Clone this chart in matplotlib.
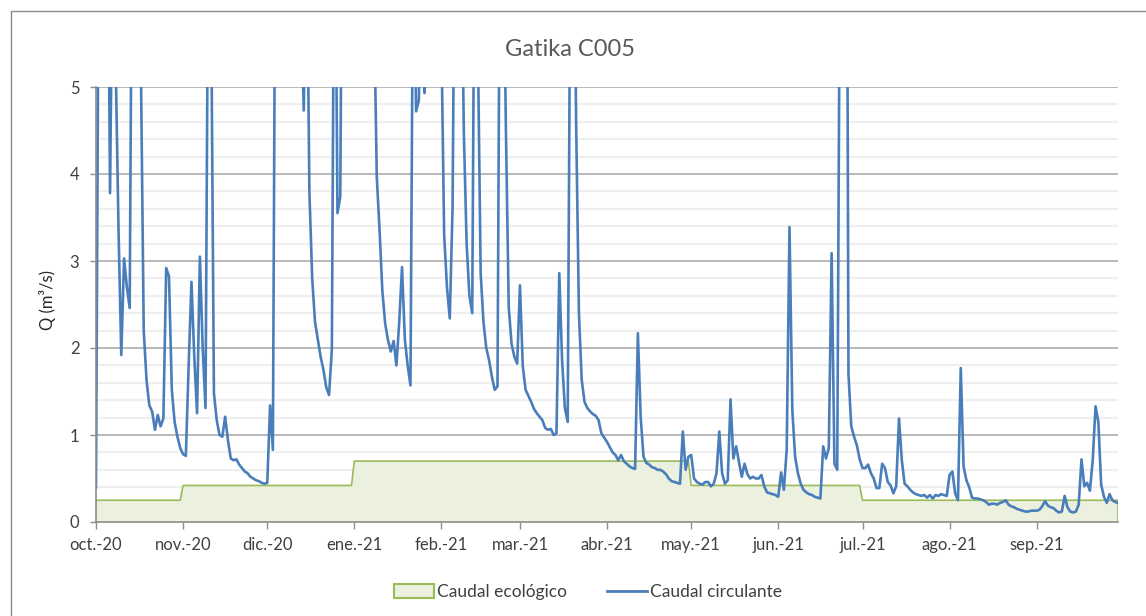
import numpy as np
import matplotlib
matplotlib.use("Agg")
import matplotlib.pyplot as plt
from matplotlib.ticker import MultipleLocator
from matplotlib.patches import Patch, Rectangle
from matplotlib.lines import Line2D

plt.rcParams['font.family'] = ['Lato', 'DejaVu Sans']

# ---------------- data ----------------
month_labels = ['oct.-20', 'nov.-20', 'dic.-20', 'ene.-21', 'feb.-21', 'mar.-21',
                'abr.-21', 'may.-21', 'jun.-21', 'jul.-21', 'ago.-21', 'sep.-21']
month_days = [31, 30, 31, 31, 28, 31, 30, 31, 30, 31, 31, 30]

# Caudal ecológico (m3/s), one value per month
eco_monthly = [0.25, 0.42, 0.42, 0.70, 0.70, 0.70, 0.70, 0.42, 0.42, 0.25, 0.25, 0.25]

# Caudal circulante (m3/s), daily values per month
q_oct = [0.40, 7.0, 9.0, 6.5, 8.0, 3.78, 7.0, 5.3, 3.4, 1.92, 3.03, 2.70, 2.46, 8.0, 10.0,
         7.0, 5.2, 2.2, 1.63, 1.34, 1.27, 1.06, 1.23, 1.10, 1.19, 2.92, 2.82, 1.52, 1.15, 0.98, 0.85]
q_nov = [0.78, 0.76, 1.8, 2.76, 1.9, 1.25, 3.05, 2.0, 1.31, 7.0, 6.0, 1.48, 1.17, 1.0, 0.98,
         1.21, 0.94, 0.73, 0.71, 0.72, 0.66, 0.62, 0.58, 0.56, 0.52, 0.50, 0.48, 0.47, 0.45, 0.44]
q_dic = [0.45, 1.34, 0.83, 8.0, 12.0, 10.0, 8.0, 9.0, 11.0, 8.0, 7.0, 9.0, 6.0, 4.73, 7.0,
         3.8, 2.8, 2.3, 2.1, 1.9, 1.75, 1.55, 1.46, 1.98, 8.0, 3.55, 3.74, 9.0, 10.0, 12.0, 10.0]
q_ene = [9.0, 11.0, 8.0, 10.0, 7.0, 9.0, 8.0, 6.0, 3.97, 3.35, 2.65, 2.28, 2.09, 1.96, 2.08,
         1.8, 2.3, 2.93, 2.1, 1.8, 1.57, 7.0, 4.72, 4.85, 7.0, 4.93, 8.0, 10.0, 12.0, 9.0, 8.0]
q_feb = [5.6, 3.3, 2.7, 2.34, 3.62, 8.0, 10.0, 7.0, 4.5, 3.2, 2.6, 2.4, 8.0, 5.5, 2.86,
         2.3, 2.0, 1.86, 1.67, 1.52, 1.56, 8.0, 7.0, 4.5, 2.47, 2.05, 1.9, 1.82]
q_mar = [2.72, 1.79, 1.52, 1.45, 1.38, 1.30, 1.25, 1.21, 1.17, 1.08, 1.06, 1.07, 1.0, 1.02, 2.86,
         1.86, 1.31, 1.15, 7.0, 8.0, 4.6, 2.4, 1.63, 1.38, 1.31, 1.27, 1.24, 1.22, 1.17, 1.02, 0.97]
q_abr = [0.92, 0.86, 0.80, 0.77, 0.71, 0.77, 0.70, 0.67, 0.64, 0.62, 0.61, 2.17, 1.2, 0.75, 0.68,
         0.66, 0.63, 0.62, 0.60, 0.60, 0.58, 0.55, 0.50, 0.47, 0.46, 0.45, 0.44, 1.04, 0.60, 0.75]
q_may = [0.77, 0.50, 0.46, 0.44, 0.43, 0.46, 0.46, 0.41, 0.44, 0.56, 1.04, 0.56, 0.44, 0.48, 1.41,
         0.73, 0.87, 0.69, 0.52, 0.67, 0.55, 0.50, 0.52, 0.50, 0.50, 0.54, 0.41, 0.34, 0.33, 0.32, 0.31]
q_jun = [0.29, 0.57, 0.37, 0.83, 3.39, 1.29, 0.75, 0.56, 0.44, 0.37, 0.34, 0.32, 0.31, 0.29, 0.28,
         0.27, 0.87, 0.73, 0.85, 3.09, 0.67, 0.60, 7.0, 9.0, 12.0, 1.7, 1.1, 0.98, 0.88, 0.72]
q_jul = [0.62, 0.62, 0.66, 0.56, 0.50, 0.39, 0.39, 0.67, 0.62, 0.46, 0.42, 0.33, 0.41, 1.19, 0.71,
         0.44, 0.41, 0.37, 0.34, 0.32, 0.31, 0.30, 0.31, 0.28, 0.31, 0.27, 0.31, 0.30, 0.32, 0.31, 0.30]
q_ago = [0.54, 0.58, 0.33, 0.25, 1.77, 0.64, 0.48, 0.40, 0.28, 0.27, 0.27, 0.26, 0.25, 0.23, 0.20,
         0.21, 0.21, 0.20, 0.22, 0.23, 0.25, 0.20, 0.18, 0.17, 0.15, 0.14, 0.13, 0.12, 0.12, 0.13, 0.13]
q_sep = [0.13, 0.14, 0.18, 0.24, 0.19, 0.17, 0.16, 0.13, 0.11, 0.12, 0.30, 0.17, 0.12, 0.11, 0.12,
         0.20, 0.72, 0.41, 0.45, 0.36, 0.71, 1.33, 1.15, 0.43, 0.29, 0.22, 0.32, 0.25, 0.23, 0.22]

caudal = np.array(q_oct + q_nov + q_dic + q_ene + q_feb + q_mar + q_abr + q_may +
                  q_jun + q_jul + q_ago + q_sep)
eco = np.repeat(eco_monthly, month_days)
days = np.arange(len(caudal))
month_starts = np.concatenate([[0], np.cumsum(month_days)[:-1]])

# ---------------- figure ----------------
W, H = 1146, 616
fig = plt.figure(figsize=(W / 100, H / 100), dpi=100)
ax = fig.add_axes([96 / W, 1 - 522 / H, (1118 - 96) / W, (522 - 87) / H])

blue = '#4A7EBB'
green_edge = '#9BBB59'
green_fill = '#EBF1DE'
grid_major = '#B3B3B3'
grid_minor = '#EFEFEF'
txt = '#404040'

ax.fill_between(days, 0, eco, facecolor=green_fill, edgecolor='none', zorder=1)
ax.plot(days, eco, color=green_edge, lw=1.2, zorder=2)
ax.plot([days[-1], days[-1]], [0, eco[-1]], color=green_edge, lw=1.2, zorder=2)
ax.plot(days, caudal, color=blue, lw=1.9, zorder=3, solid_joinstyle='round')

ax.set_xlim(0, days[-1])
ax.set_ylim(0, 5)
ax.yaxis.set_major_locator(MultipleLocator(1))
ax.yaxis.set_minor_locator(MultipleLocator(0.2))
ax.grid(which='major', axis='y', color=grid_major, lw=1.3, zorder=0)
ax.grid(which='minor', axis='y', color=grid_minor, lw=1.6, zorder=0)
ax.set_axisbelow(True)

ax.set_xticks(month_starts)
ax.set_xticklabels(month_labels, fontsize=12, color=txt)
ax.tick_params(axis='x', which='major', length=5, width=1, color='#8C8C8C', pad=6, direction='out')
ax.tick_params(axis='y', which='major', length=4, width=1, color='#8C8C8C', labelsize=12,
               labelcolor=txt, pad=8, direction='out')
ax.tick_params(axis='y', which='minor', length=0)

for s in ['top', 'right']:
    ax.spines[s].set_visible(False)
for s in ['left', 'bottom']:
    ax.spines[s].set_color('#8C8C8C')
    ax.spines[s].set_linewidth(1.2)
    ax.spines[s].set_zorder(4)

fig.text(48 / W, 1 - 300 / H, 'Q (m³/s)', rotation=90, ha='center', va='center',
         fontsize=12, color='#262626')
fig.text(570 / W, 1 - 50 / H, 'Gatika C005', ha='center', va='center',
         fontsize=17, color='#595959')

handles = [Patch(facecolor=green_fill, edgecolor=green_edge, lw=1.5),
           Line2D([0], [0], color=blue, lw=2)]
fig.legend(handles, ['Caudal ecológico', 'Caudal circulante'], loc='center',
           bbox_to_anchor=(588 / W, 1 - 592 / H), ncol=2, frameon=False,
           fontsize=12.5, handlelength=2.3, handleheight=0.9, columnspacing=2.3,
           handletextpad=0.2, labelcolor=txt)

# outer chart border (clipped at right/bottom in the reference)
fig.patches.append(Rectangle((10.5 / W, -0.2), 1.2, 1.2 - 10.5 / H,
                             transform=fig.transFigure, fill=False,
                             edgecolor='#8C8C8C', lw=1.0, zorder=0))

fig.savefig('out.png', dpi=100)
